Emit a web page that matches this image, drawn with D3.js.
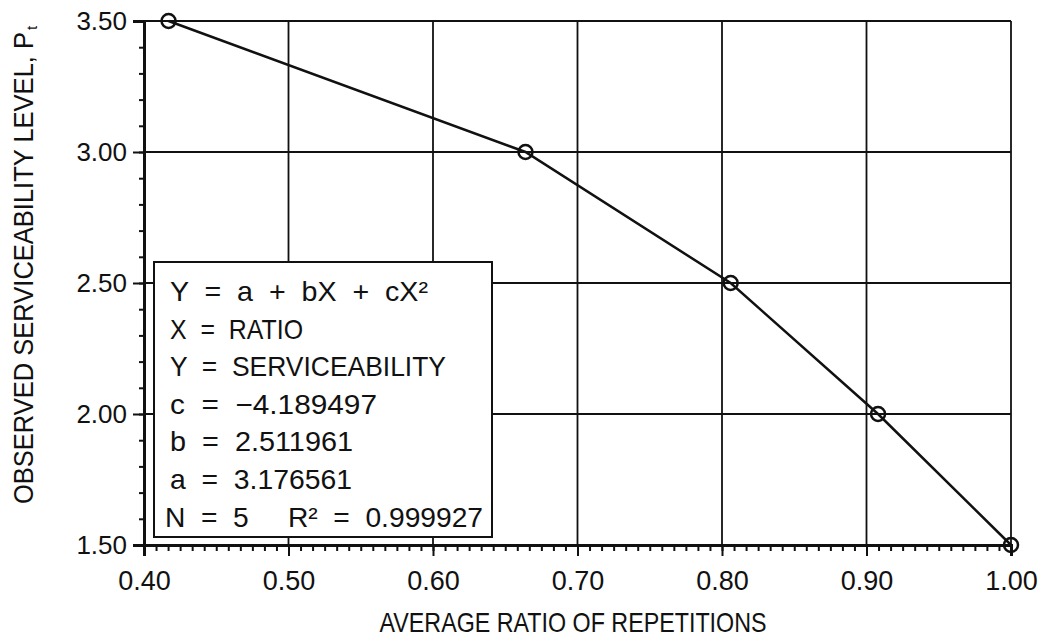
<!DOCTYPE html>
<html>
<head>
<meta charset="utf-8">
<script src="https://cdn.jsdelivr.net/npm/d3@7"></script>
<style>
  body { margin: 0; background: #fff; }
  svg text { font-family: "Liberation Sans", Arial, sans-serif; fill: #111; white-space: pre; }
  svg text.narrow { font-family: "Liberation Sans Narrow", "Liberation Sans", Arial, sans-serif; }
</style>
</head>
<body>
<div id="chart"></div>
<script>
// observed points
const ratio = [0.417, 0.664, 0.806, 0.908, 1.000]
const serviceability = [3.50, 3.00, 2.50, 2.00, 1.50]

const xTicks = [0.40, 0.50, 0.60, 0.70, 0.80, 0.90, 1.00]
const yTicks = [1.50, 2.00, 2.50, 3.00, 3.50]

const legendLines = [
  "Y  =  a  +  bX  +  cX\u00B2",
  "X  =  RATIO",
  "Y  =  SERVICEABILITY",
  "c  =  \u22124.189497",
  "b  =  2.511961",
  "a  =  3.176561",
  "N  =  5     R\u00B2  =  0.999927"
]
// measured widths of the legend lines, px
const legendWidths = [258, 133, 276, 207, 183, 182, 318]

const xTitle = "AVERAGE RATIO OF REPETITIONS"
const yTitle = "OBSERVED SERVICEABILITY LEVEL, P"

var W = 1049, H = 643
var svg = d3.select('#chart').append('svg')
  .attr('width', W).attr('height', H)

var x = d3.scaleLinear().domain([0.4, 1.0]).range([144, 1011])
var y = d3.scaleLinear().domain([1.5, 3.5]).range([545, 21])

// grid
svg.append('g').selectAll('line')
  .data(yTicks.slice(1))
  .enter().append('line')
  .attr('x1', x(0.4)).attr('x2', x(1.0))
  .attr('y1', d => y(d)).attr('y2', d => y(d))
  .attr('stroke', '#111').attr('stroke-width', 1.8)

svg.append('g').selectAll('line')
  .data(xTicks.slice(1))
  .enter().append('line')
  .attr('x1', d => x(d)).attr('x2', d => x(d))
  .attr('y1', y(3.5)).attr('y2', y(1.5))
  .attr('stroke', '#111').attr('stroke-width', 1.8)

// minor ticks
var xMinor = d3.range(0, 73).map(i => 0.4 + i * 0.1 / 12)
var yMinor = d3.range(0, 21).map(i => 1.5 + i * 0.1)

svg.append('g')
  .attr('transform', 'translate(0,' + y(1.5) + ')')
  .call(d3.axisBottom(x).tickValues(xMinor).tickSize(6).tickFormat(''))
  .call(g => g.select('.domain').remove())
  .selectAll('line').attr('stroke', '#111').attr('stroke-width', 2)

svg.append('g')
  .attr('transform', 'translate(' + x(0.4) + ',0)')
  .call(d3.axisLeft(y).tickValues(yMinor).tickSize(5).tickFormat(''))
  .call(g => g.select('.domain').remove())
  .selectAll('line').attr('stroke', '#111').attr('stroke-width', 2)

// major axes
var xAxis = svg.append('g')
  .attr('transform', 'translate(0,' + y(1.5) + ')')
  .call(d3.axisBottom(x).tickValues(xTicks).tickSize(11).tickPadding(15).tickFormat(d3.format('.2f')))
xAxis.select('.domain').attr('stroke', '#111').attr('stroke-width', 3)
xAxis.selectAll('line').attr('stroke', '#111').attr('stroke-width', 2)
xAxis.selectAll('text').attr('font-size', 27).attr('fill', '#111').attr('dy', '0.71em')

var yAxis = svg.append('g')
  .attr('transform', 'translate(' + x(0.4) + ',0)')
  .call(d3.axisLeft(y).tickValues(yTicks).tickSize(11).tickPadding(6).tickFormat(d3.format('.2f')))
yAxis.select('.domain').attr('stroke', '#111').attr('stroke-width', 3)
yAxis.selectAll('line').attr('stroke', '#111').attr('stroke-width', 2)
yAxis.selectAll('text').attr('font-size', 26).attr('fill', '#111')

// legend box
var lg = svg.append('g')
lg.append('rect')
  .attr('x', 154).attr('y', 262)
  .attr('width', 338).attr('height', 275)
  .attr('fill', '#fff').attr('stroke', '#111').attr('stroke-width', 2)

lg.selectAll('text')
  .data(legendLines)
  .enter().append('text')
  .attr('x', (d, i) => i == 6 ? 165 : 170)
  .attr('y', (d, i) => 301 + i * 37.6)
  .attr('font-size', 28)
  .attr('textLength', (d, i) => legendWidths[i])
  .attr('lengthAdjust', 'spacingAndGlyphs')
  .text(d => d)

// curve + markers
var pts = ratio.map((r, i) => [r, serviceability[i]])

svg.append('path')
  .datum(pts)
  .attr('fill', 'none')
  .attr('stroke', '#111')
  .attr('stroke-width', 2.5)
  .attr('d', d3.line().x(d => x(d[0])).y(d => y(d[1])))

svg.append('g').selectAll('circle')
  .data(pts)
  .enter().append('circle')
  .attr('cx', d => x(d[0]))
  .attr('cy', d => y(d[1]))
  .attr('r', 7)
  .attr('fill', 'none')
  .attr('stroke', '#111')
  .attr('stroke-width', 2.5)

// axis titles
svg.append('text')
  .attr('class', 'narrow')
  .attr('x', 573).attr('y', 632)
  .attr('text-anchor', 'middle')
  .attr('font-size', 28)
  .attr('textLength', 387)
  .attr('lengthAdjust', 'spacingAndGlyphs')
  .text(xTitle)

var yt = svg.append('g').attr('transform', 'translate(33,268) rotate(-90)')
yt.append('text')
  .attr('class', 'narrow')
  .attr('x', 0).attr('y', 0)
  .attr('text-anchor', 'middle')
  .attr('font-size', 27)
  .attr('textLength', 472)
  .attr('lengthAdjust', 'spacingAndGlyphs')
  .text(yTitle)
yt.append('text')
  .attr('x', 238).attr('y', 4)
  .attr('font-size', 15)
  .text('t')
</script>
</body>
</html>
